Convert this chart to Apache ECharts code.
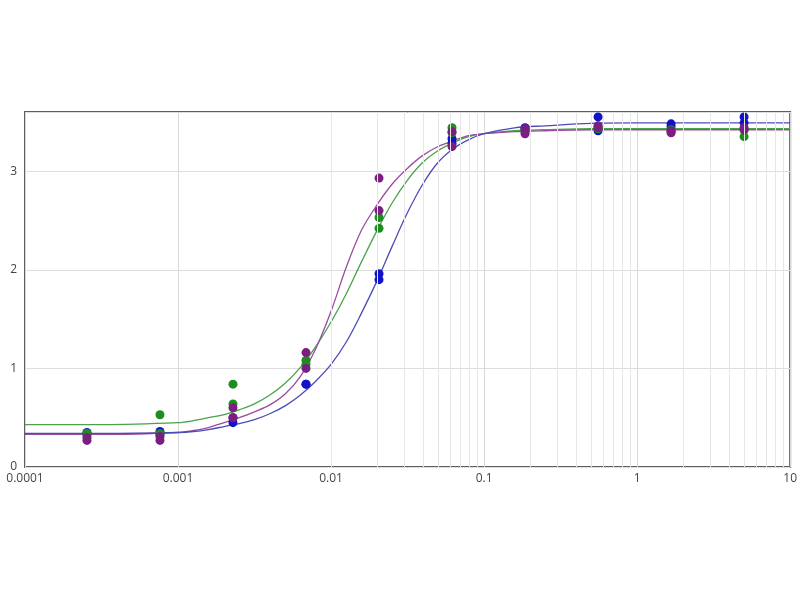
<!DOCTYPE html>
<html>
<head>
<meta charset="utf-8">
<script src="https://cdn.jsdelivr.net/npm/echarts@6/dist/echarts.min.js"></script>
<style>html,body{margin:0;padding:0;background:#fff;}#c{width:800px;height:600px;}</style>
</head>
<body>
<div id="c"></div>
<script>
// Concentrations (3-fold dilution series)
const concentrations = [0.000254, 0.000762, 0.002286, 0.006859, 0.02058, 0.06173, 0.1852, 0.5556, 1.667, 5];

// Replicate measurements per series
const blueRep1   = [0.33, 0.33, 0.45, 0.84, 1.90, 3.28, 3.42, 3.55, 3.48, 3.55];
const blueRep2   = [0.35, 0.36, 0.50, 0.84, 1.96, 3.33, 3.44, 3.41, 3.45, 3.49];
const greenRep1  = [0.34, 0.53, 0.84, 1.08, 2.53, 3.44, 3.42, 3.45, 3.42, 3.35];
const greenRep2  = [0.34, 0.34, 0.64, 1.04, 2.42, 3.39, 3.40, 3.43, 3.40, 3.42];
const purpleRep1 = [0.27, 0.27, 0.60, 1.16, 2.93, 3.40, 3.43, 3.46, 3.41, 3.44];
const purpleRep2 = [0.30, 0.31, 0.50, 1.00, 2.60, 3.25, 3.38, 3.44, 3.39, 3.42];

// Fitted curves at evenly log-spaced x positions
const curveX      = [0.0001, 0.000316, 0.001, 0.00126, 0.00158, 0.002, 0.00251, 0.00316, 0.00398, 0.00501, 0.00631, 0.00794, 0.01, 0.0126, 0.0158, 0.02, 0.0251, 0.0316, 0.0398, 0.0501, 0.0631, 0.0794, 0.1, 0.158, 0.251, 0.501, 1, 10];
const blueCurve   = [0.34, 0.34, 0.35, 0.36, 0.38, 0.41, 0.44, 0.48, 0.54, 0.62, 0.73, 0.87, 1.04, 1.27, 1.56, 1.89, 2.24, 2.58, 2.87, 3.09, 3.23, 3.32, 3.38, 3.44, 3.46, 3.485, 3.49, 3.49];
const greenCurve  = [0.43, 0.43, 0.45, 0.47, 0.50, 0.53, 0.58, 0.64, 0.73, 0.85, 1.01, 1.22, 1.47, 1.76, 2.08, 2.40, 2.68, 2.91, 3.09, 3.21, 3.29, 3.35, 3.38, 3.41, 3.42, 3.43, 3.43, 3.43];
const purpleCurve = [0.33, 0.33, 0.35, 0.37, 0.40, 0.45, 0.50, 0.56, 0.63, 0.74, 0.92, 1.20, 1.58, 2.03, 2.40, 2.66, 2.87, 3.03, 3.16, 3.25, 3.31, 3.36, 3.38, 3.40, 3.41, 3.42, 3.42, 3.42];

// Axis tick labels
const xTickLabels = ['0.0001', '0.001', '0.01', '0.1', '1', '10'];
const yTickLabels = ['0', '1', '2', '3'];
const decades = [0.0001, 0.001, 0.01, 0.1, 1];
const minorMultipliers = [2, 3, 4, 5, 6, 7, 8, 9];

const minorLines = [];
decades.forEach(d => minorMultipliers.forEach(m => minorLines.push({ xAxis: +(d * m).toPrecision(3) })));

function pairs(xs, ys) { return xs.map((x, i) => [x, ys[i]]); }

const COLORS = {
  blue:   { pt: '#1212c8', ln: '#4c4cb8' },
  green:  { pt: '#1e8c1e', ln: '#4aa24a' },
  purple: { pt: '#7a1f80', ln: '#9a4c9e' }
};

function curve(name, data, color) {
  return {
    name: name, type: 'line', data: pairs(curveX, data), smooth: 0.35,
    showSymbol: false, symbol: 'none', z: 3,
    lineStyle: { color: color, width: 1.3 }, silent: true
  };
}
function pts(name, ys, color) {
  return {
    name: name, type: 'scatter', data: pairs(concentrations, ys),
    symbolSize: 9, z: 4, itemStyle: { color: color, opacity: 1 }, silent: true
  };
}

const chart = echarts.init(document.getElementById('c'), null, { renderer: 'canvas' });
chart.setOption({
  animation: false,
  backgroundColor: '#fff',
  grid: { left: 25, right: 9, top: 112, bottom: 133, show: true, borderColor: '#5e5e5e', borderWidth: 2, backgroundColor: 'transparent' },
  xAxis: {
    type: 'log', logBase: 10, min: 0.0001, max: 10,
    axisLine: { show: false }, axisTick: { show: false },
    splitLine: { show: true, lineStyle: { color: '#d8d8d8', width: 1 } },
    axisLabel: {
      color: '#444', fontSize: 12, fontFamily: 'Open Sans', margin: 6,
      formatter: function (v) {
        const idx = Math.round(Math.log10(v) + 4);
        return xTickLabels[idx] !== undefined ? xTickLabels[idx] : '';
      }
    }
  },
  yAxis: {
    type: 'value', min: 0, max: 3.6, interval: 1,
    axisLine: { show: false }, axisTick: { show: false },
    splitLine: { show: true, lineStyle: { color: '#dedede', width: 1 } },
    axisLabel: {
      color: '#444', fontSize: 12, fontFamily: 'Open Sans', margin: 8, showMaxLabel: false,
      formatter: function (v) { const i = Math.round(v); return (Math.abs(v - i) < 1e-6 && yTickLabels[i] !== undefined) ? yTickLabels[i] : ''; }
    }
  },
  series: [
    {
      type: 'line', data: [], silent: true, z: 1,
      markLine: {
        silent: true, symbol: 'none', animation: false,
        label: { show: false },
        lineStyle: { color: '#e6e6e6', width: 1, type: 'solid' },
        data: minorLines
      }
    },
    curve('green fit', greenCurve, COLORS.green.ln),
    curve('purple fit', purpleCurve, COLORS.purple.ln),
    curve('blue fit', blueCurve, COLORS.blue.ln),
    pts('blue 1', blueRep1, COLORS.blue.pt),
    pts('blue 2', blueRep2, COLORS.blue.pt),
    pts('green 1', greenRep1, COLORS.green.pt),
    pts('green 2', greenRep2, COLORS.green.pt),
    pts('purple 1', purpleRep1, COLORS.purple.pt),
    pts('purple 2', purpleRep2, COLORS.purple.pt)
  ]
});
</script>
</body>
</html>
